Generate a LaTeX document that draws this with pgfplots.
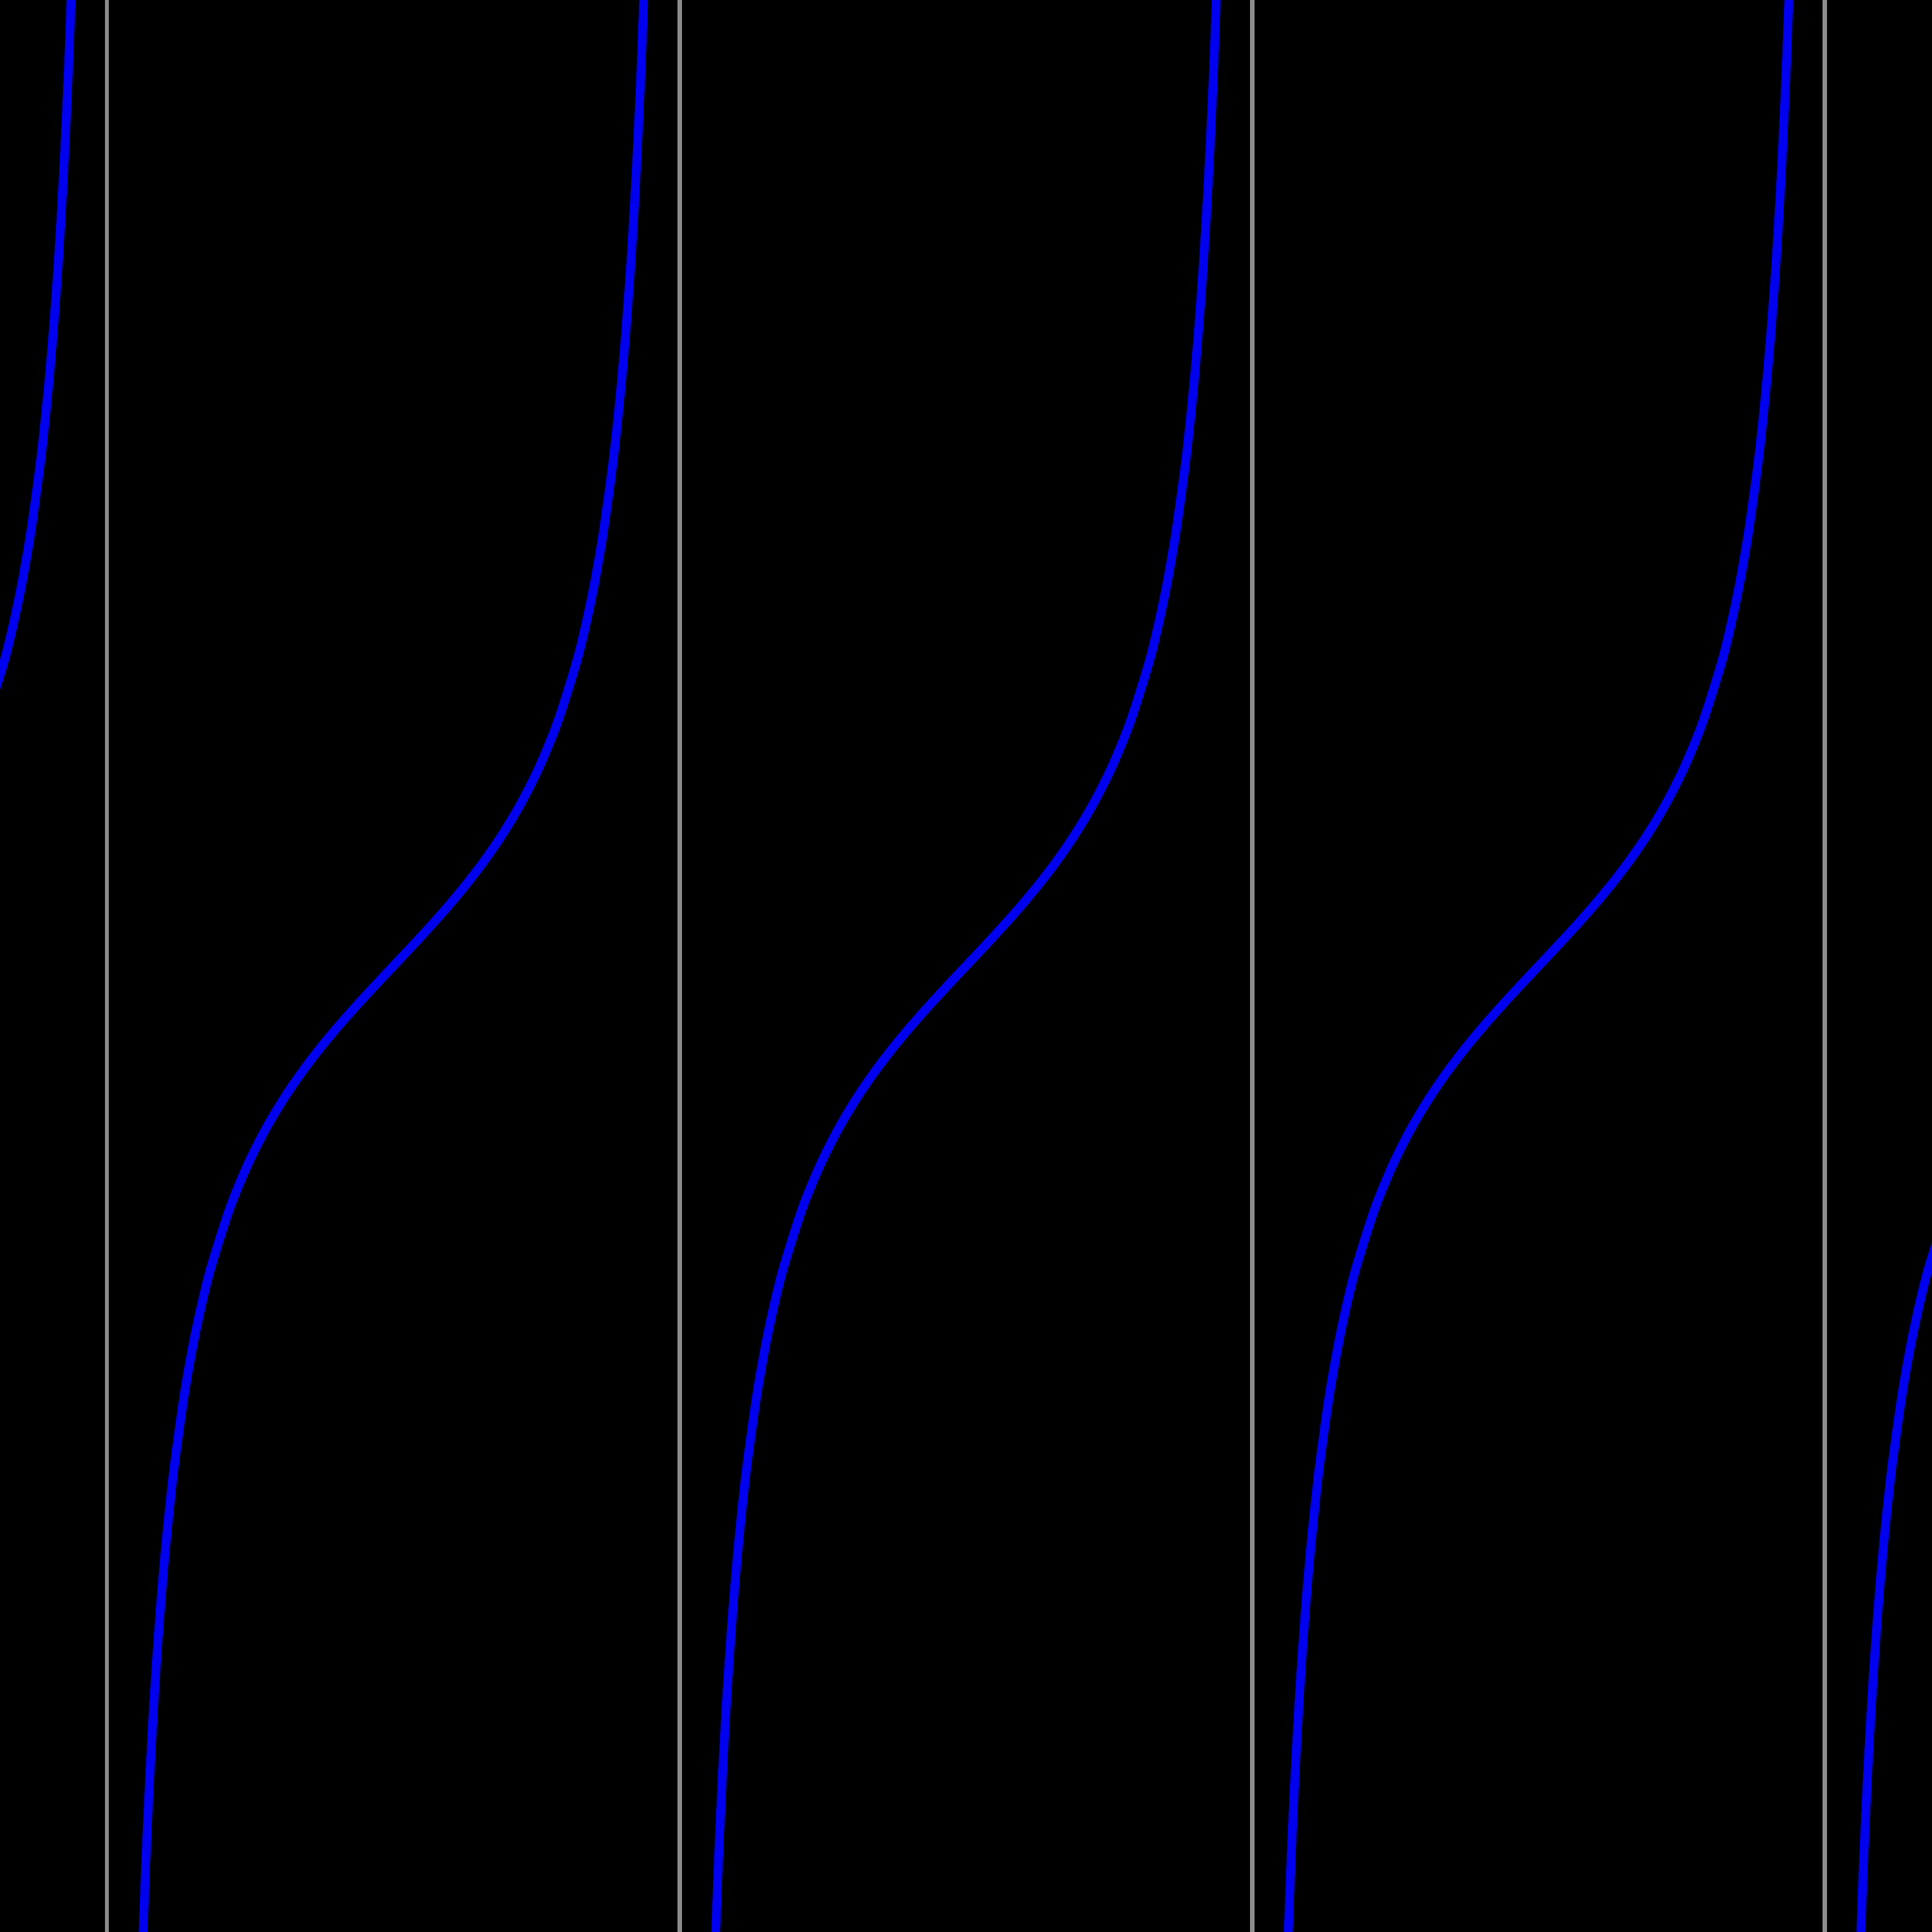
\documentclass[border=0pt]{standalone}
\usepackage{pgfplots}
\pgfplotsset{compat=1.18}
\definecolor{asym}{RGB}{140,140,140}
\definecolor{curve}{RGB}{0,0,240}
\begin{document}
\begin{tikzpicture}
\begin{axis}[
  scale only axis, width=10cm, height=10cm,
  xmin=-5.3, xmax=5.3, ymin=-5, ymax=5,
  ticks=none, axis line style={draw=none},
  axis background/.style={fill=black},
  clip=true,
]
% asymptotes
\addplot[asym, line width=0.6pt] coordinates {(-4.71239,-6) (-4.71239,6)};
\addplot[asym, line width=0.6pt] coordinates {(-1.5708,-6) (-1.5708,6)};
\addplot[asym, line width=0.6pt] coordinates {(1.5708,-6) (1.5708,6)};
\addplot[asym, line width=0.6pt] coordinates {(4.71239,-6) (4.71239,6)};
% left partial branch
\addplot[curve, line width=1.3pt, smooth] coordinates {
(-5.38319,1.26016) (-5.28319,1.55741) (-5.23319,1.74331) (-5.18319,1.96476)
(-5.13319,2.23449) (-5.08319,2.57215) (-5.05819,2.7756) (-5.03319,3.00957)
(-5.00819,3.2815) (-4.98319,3.60210) (-4.96319,3.9033) (-4.94319,4.2555)
(-4.92319,4.6734) (-4.90319,5.1773)};
% branch centred at -pi
\addplot[curve, line width=1.3pt, smooth] coordinates {
(-4.52159,-5.1773) (-4.50159,-4.6734) (-4.48159,-4.2555) (-4.46159,-3.9033)
(-4.44159,-3.60210) (-4.41659,-3.2815) (-4.39159,-3.00957) (-4.36659,-2.7756)
(-4.34159,-2.57215) (-4.29159,-2.23449) (-4.24159,-1.96476) (-4.19159,-1.74331)
(-4.14159,-1.55741) (-4.04159,-1.26016) (-3.94159,-1.02964) (-3.84159,-0.84229)
(-3.74159,-0.68414) (-3.64159,-0.54630) (-3.54159,-0.42279) (-3.44159,-0.30934)
(-3.34159,-0.20271) (-3.24159,-0.10033) (-3.14159,0) (-3.04159,0.10033)
(-2.94159,0.20271) (-2.84159,0.30934) (-2.74159,0.42279) (-2.64159,0.54630)
(-2.54159,0.68414) (-2.44159,0.84229) (-2.34159,1.02964) (-2.24159,1.26016)
(-2.14159,1.55741) (-2.09159,1.74331) (-2.04159,1.96476) (-1.99159,2.23449)
(-1.94159,2.57215) (-1.91659,2.7756) (-1.89159,3.00957) (-1.86659,3.2815)
(-1.84159,3.60210) (-1.82159,3.9033) (-1.80159,4.2555) (-1.78159,4.6734)
(-1.76159,5.1773)};
% branch centred at 0
\addplot[curve, line width=1.3pt, smooth] coordinates {
(-1.38,-5.1773) (-1.36,-4.6734) (-1.34,-4.2555) (-1.32,-3.9033)
(-1.30,-3.60210) (-1.275,-3.2815) (-1.25,-3.00957) (-1.225,-2.7756)
(-1.2,-2.57215) (-1.15,-2.23449) (-1.1,-1.96476) (-1.05,-1.74331)
(-1.0,-1.55741) (-0.9,-1.26016) (-0.8,-1.02964) (-0.7,-0.84229)
(-0.6,-0.68414) (-0.5,-0.54630) (-0.4,-0.42279) (-0.3,-0.30934)
(-0.2,-0.20271) (-0.1,-0.10033) (0,0) (0.1,0.10033)
(0.2,0.20271) (0.3,0.30934) (0.4,0.42279) (0.5,0.54630)
(0.6,0.68414) (0.7,0.84229) (0.8,1.02964) (0.9,1.26016)
(1.0,1.55741) (1.05,1.74331) (1.1,1.96476) (1.15,2.23449)
(1.2,2.57215) (1.225,2.7756) (1.25,3.00957) (1.275,3.2815)
(1.30,3.60210) (1.32,3.9033) (1.34,4.2555) (1.36,4.6734)
(1.38,5.1773)};
% branch centred at pi
\addplot[curve, line width=1.3pt, smooth] coordinates {
(1.76159,-5.1773) (1.78159,-4.6734) (1.80159,-4.2555) (1.82159,-3.9033)
(1.84159,-3.60210) (1.86659,-3.2815) (1.89159,-3.00957) (1.91659,-2.7756)
(1.94159,-2.57215) (1.99159,-2.23449) (2.04159,-1.96476) (2.09159,-1.74331)
(2.14159,-1.55741) (2.24159,-1.26016) (2.34159,-1.02964) (2.44159,-0.84229)
(2.54159,-0.68414) (2.64159,-0.54630) (2.74159,-0.42279) (2.84159,-0.30934)
(2.94159,-0.20271) (3.04159,-0.10033) (3.14159,0) (3.24159,0.10033)
(3.34159,0.20271) (3.44159,0.30934) (3.54159,0.42279) (3.64159,0.54630)
(3.74159,0.68414) (3.84159,0.84229) (3.94159,1.02964) (4.04159,1.26016)
(4.14159,1.55741) (4.19159,1.74331) (4.24159,1.96476) (4.29159,2.23449)
(4.34159,2.57215) (4.36659,2.7756) (4.39159,3.00957) (4.41659,3.2815)
(4.44159,3.60210) (4.46159,3.9033) (4.48159,4.2555) (4.50159,4.6734)
(4.52159,5.1773)};
% right partial branch
\addplot[curve, line width=1.3pt, smooth] coordinates {
(4.90319,-5.1773) (4.92319,-4.6734) (4.94319,-4.2555) (4.96319,-3.9033)
(4.98319,-3.60210) (5.00819,-3.2815) (5.03319,-3.00957) (5.05819,-2.7756)
(5.08319,-2.57215) (5.13319,-2.23449) (5.18319,-1.96476) (5.23319,-1.74331)
(5.28319,-1.55741) (5.38319,-1.26016)};
\end{axis}
\end{tikzpicture}
\end{document}
